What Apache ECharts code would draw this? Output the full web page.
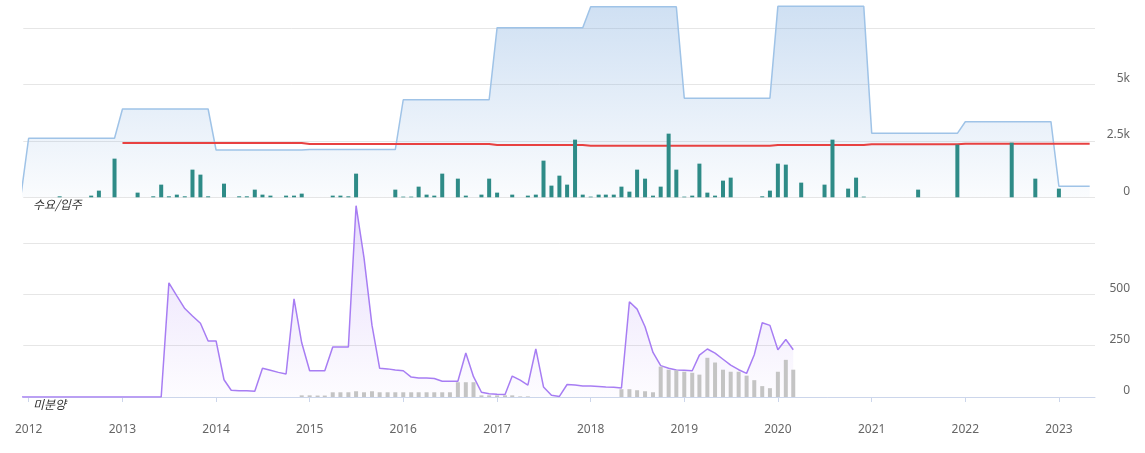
<!DOCTYPE html>
<html>
<head>
<meta charset="utf-8">
<script src="https://cdn.jsdelivr.net/npm/echarts@6/dist/echarts.min.js"></script>
<style>
html,body{margin:0;padding:0;background:#fff;}
#c{width:1145px;height:453px;}
</style>
</head>
<body>
<div id="c"></div>
<script>
// ---- data (monthly) ----
const xMin = '2011-12-19';
const xMax = '2023-05-14';

// 수요 (light-blue area), from 2011-12
const demandStart = '2011-12';
const demand = [
  0,
  2620,2620,2620,2620,2620,2620,2620,2620,2620,2620,2620,2620, // 2012
  3920,3920,3920,3920,3920,3920,3920,3920,3920,3920,3920,3920, // 2013
  2100,2100,2100,2100,2100,2100,2100,2100,2100,2100,2100,2100, // 2014
  2120,2120,2120,2120,2120,2120,2120,2120,2120,2120,2120,2120, // 2015
  4330,4330,4330,4330,4330,4330,4330,4330,4330,4330,4330,4330, // 2016
  7530,7530,7530,7530,7530,7530,7530,7530,7530,7530,7530,7530, // 2017
  8460,8460,8460,8460,8460,8460,8460,8460,8460,8460,8460,8460, // 2018
  4400,4400,4400,4400,4400,4400,4400,4400,4400,4400,4400,4400, // 2019
  8475,8475,8475,8475,8475,8475,8475,8475,8475,8475,8475,8475, // 2020
  2840,2840,2840,2840,2840,2840,2840,2840,2840,2840,2840,2840, // 2021
  3355,3355,3355,3355,3355,3355,3355,3355,3355,3355,3355,3355, // 2022
  490,490,490,490,490                                          // 2023
];

// 평균 (red line), from 2013-01
const avgStart = '2013-01';
const avgLine = [
  2410,2410,2410,2410,2410,2410,2410,2410,2410,2410,2410,2410, // 2013
  2410,2410,2410,2410,2410,2410,2410,2410,2410,2410,2410,2410, // 2014
  2365,2365,2365,2365,2365,2365,2365,2365,2365,2365,2365,2365, // 2015
  2365,2365,2365,2365,2365,2365,2365,2365,2365,2365,2365,2365, // 2016
  2325,2325,2325,2325,2325,2325,2325,2325,2325,2325,2325,2325, // 2017
  2292,2292,2292,2292,2292,2292,2292,2292,2292,2292,2292,2292, // 2018
  2290,2290,2290,2290,2290,2290,2290,2290,2290,2290,2290,2290, // 2019
  2320,2320,2320,2320,2320,2320,2320,2320,2320,2320,2320,2320, // 2020
  2350,2350,2350,2350,2350,2350,2350,2350,2350,2350,2350,2350, // 2021
  2378,2378,2378,2378,2378,2378,2378,2378,2378,2378,2378,2378, // 2022
  2378,2378,2378,2378,2378                                     // 2023
];

// 입주 (teal bars), from 2012-01
const supplyStart = '2012-01';
const supply = [
  0,0,0,0,44,0,0,0,74,296,0,1716,          // 2012
  0,0,207,0,44,562,44,118,44,1228,1006,44, // 2013
  0,606,0,44,44,340,118,74,0,74,74,163,    // 2014
  0,0,0,74,74,44,1050,0,0,0,0,340,         // 2015
  30,30,473,118,74,1050,0,828,74,0,118,828,// 2016
  207,0,118,0,74,118,1627,518,961,562,2559,118, // 2017
  30,118,118,118,473,251,1228,828,74,473,2825,1228, // 2018
  30,74,1494,207,74,740,873,0,0,0,44,296,  // 2019
  1494,1450,0,651,0,0,562,2559,0,385,873,30, // 2020
  0,0,0,0,0,0,340,0,0,0,0,2337,            // 2021
  0,0,0,0,0,0,2426,0,0,828,0,0,            // 2022
  385,0,0,0,0                              // 2023
];

// 미분양 (purple area), from 2011-12
const unsoldStart = '2011-12';
const unsold = [
  0,
  0,0,0,0,0,0,0,0,0,0,0,0,                 // 2012
  0,0,0,0,0,0,556,493,431,395,359,273,     // 2013
  273,84,33,31,30,28,140,130,120,112,478,264, // 2014
  128,128,128,244,244,244,932,678,350,140,137,132, // 2015
  128,97,92,92,90,77,77,77,214,99,23,16,   // 2016
  13,12,102,82,58,234,49,8,3,61,58,54,     // 2017
  53,51,49,48,44,464,428,342,217,153,140,132, // 2018
  130,128,204,234,214,184,155,133,115,206,362,349, // 2019
  230,280,230                              // 2020
];

// 준공후 미분양 (grey bars), from 2014-12
const greyStart = '2014-12';
const greyBars = [
  8,
  8,7,7,23,23,23,28,23,28,23,23,23,        // 2015
  23,23,23,23,23,23,23,72,72,72,8,8,       // 2016
  8,8,8,3,3,0,0,0,0,0,0,0,                 // 2017
  0,0,0,0,38,38,33,28,23,148,133,130,      // 2018
  123,118,109,191,168,133,123,123,104,82,53,43, // 2019
  123,181,133                              // 2020
];

const yTopTicks = ['0', '2.5k', '5k'];
const labelTop = '수요/입주';
const labelBottom = '미분양';

// ---- helpers ----
function monthSeq(start, n) {
  const parts = start.split('-').map(Number);
  const out = [];
  for (let i = 0; i < n; i++) {
    const k = parts[1] - 1 + i;
    const yy = parts[0] + Math.floor(k / 12);
    const mm = (k % 12) + 1;
    out.push(yy + '-' + String(mm).padStart(2, '0') + '-01');
  }
  return out;
}
function pair(start, vals) {
  const d = monthSeq(start, vals.length);
  return vals.map((v, i) => [d[i], v]);
}

const chart = echarts.init(document.getElementById('c'), null, {renderer: 'canvas'});
const gridLine = {lineStyle: {color: '#e6e6e6', width: 1}, showMaxLine: false};
const labelStyle = {color: '#666', fontSize: 12, fontFamily: 'Noto Sans, sans-serif'};

chart.setOption({
  animation: false,
  backgroundColor: '#fff',
  grid: [
    {left: 23.3, right: 50, top: 5.8, height: 191.5},
    {left: 23.3, right: 50, top: 197.7, height: 199.3}
  ],
  xAxis: [
    {type: 'time', gridIndex: 0, min: xMin, max: xMax, show: false},
    {type: 'time', gridIndex: 1, min: xMin, max: xMax, offset: 19,
     splitNumber: 12, minInterval: 300 * 86400000, maxInterval: 400 * 86400000,
     axisLine: {show: true, lineStyle: {color: '#ccd6eb'}},
     axisTick: {show: true, length: 5, lineStyle: {color: '#ccd6eb'}},
     splitLine: {show: false},
     axisLabel: Object.assign({formatter: '{yyyy}', showMinLabel: false, showMaxLabel: false, margin: 8}, labelStyle)}
  ],
  yAxis: [
    {type: 'value', gridIndex: 0, position: 'right', min: 0, max: 8500, interval: 2500,
     axisLine: {show: false}, axisTick: {show: false},
     splitLine: gridLine,
     axisLabel: Object.assign({
       formatter: function (v) { const i = Math.round(v / 2500); return yTopTicks[i] !== undefined && v % 2500 === 0 ? yTopTicks[i] : ''; },
       align: 'right', margin: 35, verticalAlign: 'bottom', showMaxLabel: false}, labelStyle)},
    {type: 'value', gridIndex: 1, position: 'right', min: 0, max: 971, interval: 250,
     axisLine: {show: false}, axisTick: {show: false},
     splitLine: gridLine,
     axisLabel: Object.assign({
       formatter: function (v) { return v % 250 === 0 && v < 750 ? String(v) : ''; },
       align: 'right', margin: 35, verticalAlign: 'bottom', showMaxLabel: false}, labelStyle)}
  ],
  graphic: [
    {type: 'text', left: 33, top: 198, z: 10,
     style: {text: labelTop, font: 'italic 12px "Noto Sans CJK KR", sans-serif', fill: '#333'}},
    {type: 'text', left: 33, top: 398, z: 10,
     style: {text: labelBottom, font: 'italic 12px "Noto Sans CJK KR", sans-serif', fill: '#333'}}
  ],
  series: [
    {name: '수요', type: 'line', xAxisIndex: 0, yAxisIndex: 0, data: pair(demandStart, demand),
     symbol: 'none', z: 1,
     lineStyle: {color: '#9fc3e7', width: 1.5},
     areaStyle: {color: new echarts.graphic.LinearGradient(0, 0, 0, 1, [
       {offset: 0, color: 'rgba(124,170,222,0.52)'},
       {offset: 1, color: 'rgba(124,170,222,0.05)'}])}},
    {name: '평균', type: 'line', xAxisIndex: 0, yAxisIndex: 0, data: pair(avgStart, avgLine),
     symbol: 'none', z: 3,
     lineStyle: {color: '#e84141', width: 2}},
    {name: '입주', type: 'bar', xAxisIndex: 0, yAxisIndex: 0, data: pair(supplyStart, supply),
     barWidth: 4, z: 4, itemStyle: {color: '#2e8b87'}},
    {name: '미분양', type: 'line', xAxisIndex: 1, yAxisIndex: 1, data: pair(unsoldStart, unsold),
     symbol: 'none', z: 2,
     lineStyle: {color: '#a77df3', width: 1.5},
     areaStyle: {color: new echarts.graphic.LinearGradient(0, 0, 0, 1, [
       {offset: 0, color: 'rgba(167,125,243,0.38)'},
       {offset: 1, color: 'rgba(167,125,243,0.03)'}])}},
    {name: '준공후미분양', type: 'bar', xAxisIndex: 1, yAxisIndex: 1, data: pair(greyStart, greyBars),
     barWidth: 4, z: 3, itemStyle: {color: '#c4c4c4'}}
  ]
});
</script>
</body>
</html>
